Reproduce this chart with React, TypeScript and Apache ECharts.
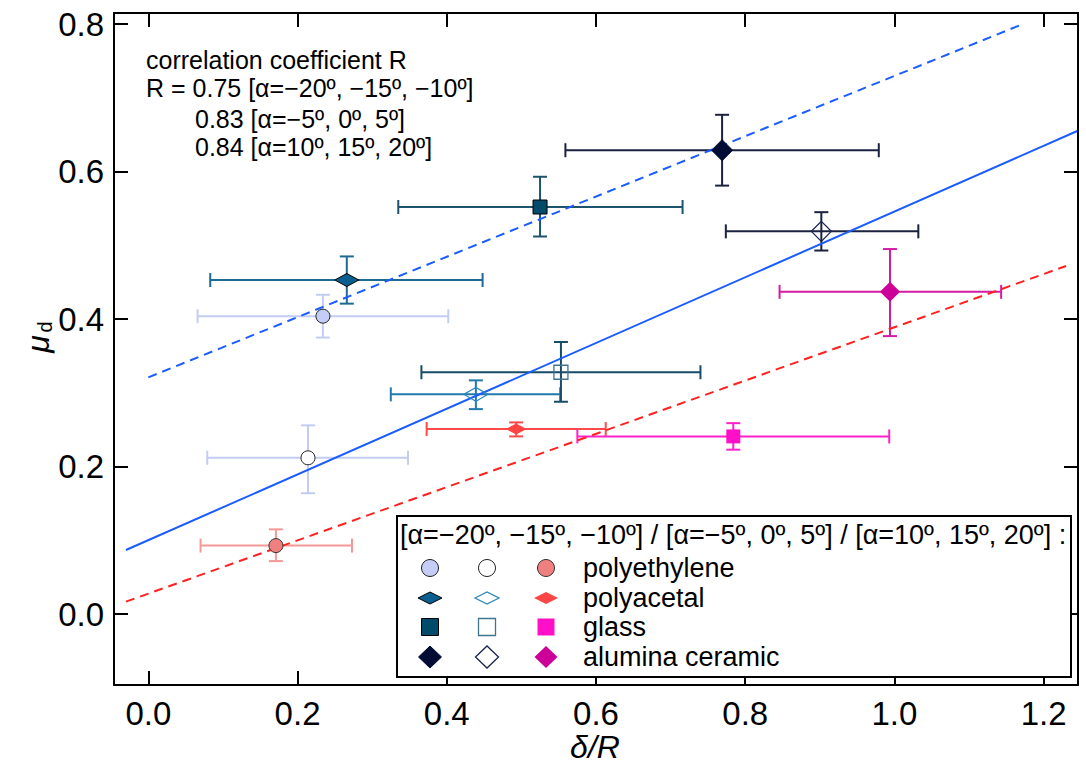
import React, { useEffect, useRef } from "react";
import * as echarts from "echarts";

const FF = '"Liberation Sans", Arial, Helvetica, sans-serif';

// ---- axes ----
const xTicks = [0, 0.2, 0.4, 0.6, 0.8, 1.0, 1.2];
const yTicks = [0, 0.2, 0.4, 0.6, 0.8];
const xRange = [-0.046, 1.246];
const yRange = [-0.096, 0.815];

// ---- categories ----
const materials = ["polyethylene", "polyacetal", "glass", "alumina ceramic"];
const angleGroups = ["[α=−20º, −15º, −10º]", "[α=−5º, 0º, 5º]", "[α=10º, 15º, 20º]"];

// ---- data: α = −20º, −15º, −10º (order: polyethylene, polyacetal, glass, alumina) ----
const negX = [0.234, 0.266, 0.525, 0.769];
const negY = [0.404, 0.453, 0.552, 0.629];
const negXLo = [0.066, 0.083, 0.335, 0.559];
const negXHi = [0.402, 0.448, 0.716, 0.979];
const negYLo = [0.375, 0.421, 0.512, 0.581];
const negYHi = [0.433, 0.485, 0.593, 0.677];

// ---- data: α = −5º, 0º, 5º ----
const zeroX = [0.214, 0.439, 0.553, 0.902];
const zeroY = [0.212, 0.298, 0.328, 0.519];
const zeroXLo = [0.079, 0.325, 0.366, 0.774];
const zeroXHi = [0.348, 0.552, 0.740, 1.032];
const zeroYLo = [0.164, 0.278, 0.288, 0.493];
const zeroYHi = [0.256, 0.317, 0.369, 0.545];

// ---- data: α = 10º, 15º, 20º ----
const posX = [0.171, 0.493, 0.784, 0.994];
const posY = [0.093, 0.251, 0.241, 0.437];
const posXLo = [0.070, 0.373, 0.575, 0.846];
const posXHi = [0.273, 0.613, 0.993, 1.143];
const posYLo = [0.072, 0.241, 0.223, 0.377];
const posYHi = [0.115, 0.260, 0.259, 0.495];

// ---- fit lines (end points) ----
const fitZeroX = [-0.03, 1.245];
const fitZeroY = [0.087, 0.655];
const fitNegX = [0.0, 1.172];
const fitNegY = [0.321, 0.8];
const fitPosX = [-0.03, 1.23];
const fitPosY = [0.017, 0.472];

// ---- annotation text ----
const noteLines = [
  "correlation coefficient R",
  "R = 0.75 [α=−20º, −15º, −10º]",
  "0.83 [α=−5º, 0º, 5º]",
  "0.84 [α=10º, 15º, 20º]",
];

// ---- styles ----
type Mk = { symbol: string; size: number | number[]; fill: string; stroke: string; lw: number };
const negMarkers: Mk[] = [
  { symbol: "circle", size: 14, fill: "#c3cdf5", stroke: "#222", lw: 1 },
  { symbol: "diamond", size: [24, 13], fill: "#0a5f8e", stroke: "#000", lw: 1 },
  { symbol: "rect", size: 14, fill: "#004a6a", stroke: "#000", lw: 1 },
  { symbol: "diamond", size: [21, 21], fill: "#000c33", stroke: "#000c33", lw: 1 },
];
const zeroMarkers: Mk[] = [
  { symbol: "circle", size: 14, fill: "#ffffff", stroke: "#222", lw: 1 },
  { symbol: "diamond", size: [24, 14], fill: "transparent", stroke: "#2a88bb", lw: 1.3 },
  { symbol: "rect", size: 14, fill: "transparent", stroke: "#3f7590", lw: 1.3 },
  { symbol: "diamond", size: [20, 20], fill: "transparent", stroke: "#1c2550", lw: 1.3 },
];
const posMarkers: Mk[] = [
  { symbol: "circle", size: 14, fill: "#f08080", stroke: "#333", lw: 1 },
  { symbol: "diamond", size: [21, 11], fill: "#ff4444", stroke: "#ff4444", lw: 0 },
  { symbol: "rect", size: 14, fill: "#ff10c8", stroke: "#ff10c8", lw: 0 },
  { symbol: "diamond", size: [20, 20], fill: "#cc0099", stroke: "#cc0099", lw: 0 },
];
const negBarColors = ["#c3cdf3", "#1d6b94", "#1c5470", "#1b2240"];
const zeroBarColors = ["#c3cdf3", "#2279ad", "#164c68", "#1b2240"];
const posBarColors = ["#f59898", "#ff4a4a", "#ff22cc", "#d21ca6"];

function errSeries(name: string, xs: number[], ys: number[], xl: number[], xh: number[], yl: number[], yh: number[], colors: string[]) {
  return {
    type: "custom",
    name,
    z: 2,
    data: xs.map((x, i) => [x, ys[i], xl[i], xh[i], yl[i], yh[i]]),
    encode: { x: [0, 2, 3], y: [1, 4, 5] },
    renderItem: (params: any, api: any) => {
      const x = api.value(0), y = api.value(1);
      const a = api.coord([api.value(2), y]);
      const b = api.coord([api.value(3), y]);
      const c = api.coord([x, api.value(4)]);
      const d = api.coord([x, api.value(5)]);
      const cap = 7;
      const st = { stroke: colors[params.dataIndex], lineWidth: 2 };
      const ln = (x1: number, y1: number, x2: number, y2: number) => ({
        type: "line",
        shape: { x1, y1, x2, y2 },
        style: st,
      });
      return {
        type: "group",
        children: [
          ln(a[0], a[1], b[0], b[1]),
          ln(c[0], c[1], d[0], d[1]),
          ln(a[0], a[1] - cap, a[0], a[1] + cap),
          ln(b[0], b[1] - cap, b[0], b[1] + cap),
          ln(c[0] - cap, c[1], c[0] + cap, c[1]),
          ln(d[0] - cap, d[1], d[0] + cap, d[1]),
        ],
      };
    },
  };
}

function markerSeries(name: string, xs: number[], ys: number[], mk: Mk[]) {
  return {
    type: "scatter",
    name,
    z: 4,
    data: xs.map((x, i) => ({
      value: [x, ys[i]],
      symbol: mk[i].symbol,
      symbolSize: mk[i].size,
      itemStyle: { color: mk[i].fill, borderColor: mk[i].stroke, borderWidth: mk[i].lw, opacity: 1 },
    })),
  };
}

function fitSeries(name: string, xs: number[], ys: number[], color: string, dashed: boolean) {
  return {
    type: "line",
    name,
    z: 3,
    data: xs.map((x, i) => [x, ys[i]]),
    showSymbol: false,
    symbol: "none",
    lineStyle: { color, width: 2, type: dashed ? [9, 6] : "solid" },
  };
}

function legendGraphics() {
  const cols = [430, 487, 546];
  const rows = [568, 598, 627, 657];
  const sets = [negMarkers, zeroMarkers, posMarkers];
  const els: any[] = [
    {
      type: "rect",
      shape: { x: 397, y: 516, width: 674, height: 161 },
      style: { fill: "#fff", stroke: "#000", lineWidth: 2 },
      z: 100,
    },
    {
      type: "text",
      x: 400,
      y: 535,
      z: 101,
      style: {
        text: angleGroups.join(" / ") + " :",
        fill: "#000",
        font: `27px ${FF}`,
        align: "left",
        verticalAlign: "middle",
      },
    },
  ];
  rows.forEach((cy, r) => {
    sets.forEach((set, c) => {
      const m = set[r];
      const cx = cols[c];
      const style = { fill: m.fill === "transparent" ? "none" : m.fill, stroke: m.stroke, lineWidth: m.lw || 0 };
      if (m.symbol === "circle") {
        els.push({ type: "circle", z: 101, shape: { cx, cy, r: 8.5 }, style });
      } else if (m.symbol === "rect") {
        els.push({ type: "rect", z: 101, shape: { x: cx - 8.5, y: cy - 8.5, width: 17, height: 17 }, style });
      } else {
        const w = r === 1 ? 24 : 23;
        const h = r === 1 ? 12 : 22;
        els.push({
          type: "polygon",
          z: 101,
          shape: { points: [[cx - w / 2, cy], [cx, cy - h / 2], [cx + w / 2, cy], [cx, cy + h / 2]] },
          style,
        });
      }
    });
    els.push({
      type: "text",
      x: 583,
      y: cy,
      z: 101,
      style: { text: materials[r], fill: "#000", font: `27px ${FF}`, align: "left", verticalAlign: "middle" },
    });
  });
  return els;
}

function noteGraphics() {
  const xs = [146, 146, 195, 195];
  const ys = [60, 88, 119, 147];
  return noteLines.map((t, i) => ({
    type: "text",
    x: xs[i],
    y: ys[i],
    z: 50,
    style: { text: t, fill: "#000", font: `25px ${FF}`, align: "left", verticalAlign: "middle" },
  }));
}

function axisNameGraphics() {
  return [
    {
      type: "text",
      x: 595,
      y: 747,
      z: 50,
      style: { text: "δ/R", fill: "#000", font: `italic 32px ${FF}`, align: "center", verticalAlign: "middle" },
    },
    {
      type: "group",
      x: 38,
      y: 338,
      rotation: Math.PI / 2,
      z: 50,
      children: [
        {
          type: "text",
          x: -6,
          y: 0,
          style: { text: "μ", fill: "#000", font: `italic 32px ${FF}`, align: "center", verticalAlign: "middle" },
        },
        {
          type: "text",
          x: 11,
          y: 7,
          style: { text: "d", fill: "#000", font: `20px ${FF}`, align: "center", verticalAlign: "middle" },
        },
      ],
    },
  ];
}

const axisCommon = {
  type: "value",
  splitLine: { show: false },
  axisLine: { show: true, onZero: false, lineStyle: { color: "#000", width: 2 } },
};

export default function App() {
  const ref = useRef<HTMLDivElement>(null);
  useEffect(() => {
    document.body.style.margin = "0";
    const chart = echarts.init(ref.current as HTMLDivElement, null, { renderer: "svg" });
    const option: any = {
      animation: false,
      backgroundColor: "#fff",
      grid: { left: 114, right: 8, top: 13, bottom: 86, containLabel: false },
      xAxis: [
        {
          ...axisCommon,
          position: "bottom",
          min: xRange[0],
          max: xRange[1],
          axisTick: { show: true, inside: true, length: 14, customValues: xTicks, lineStyle: { color: "#000", width: 2 } },
          axisLabel: {
            show: true,
            customValues: xTicks,
            formatter: (v: number) => v.toFixed(1),
            fontSize: 33,
            fontFamily: FF,
            color: "#000",
            margin: 12,
          },
        },
        {
          ...axisCommon,
          position: "top",
          min: xRange[0],
          max: xRange[1],
          axisTick: { show: true, inside: true, length: 14, customValues: xTicks, lineStyle: { color: "#000", width: 2 } },
          axisLabel: { show: false },
        },
      ],
      yAxis: [
        {
          ...axisCommon,
          position: "left",
          min: yRange[0],
          max: yRange[1],
          axisTick: { show: true, inside: true, length: 14, customValues: yTicks, lineStyle: { color: "#000", width: 2 } },
          axisLabel: {
            show: true,
            customValues: yTicks,
            formatter: (v: number) => v.toFixed(1),
            fontSize: 33,
            fontFamily: FF,
            color: "#000",
            margin: 10,
          },
        },
        {
          ...axisCommon,
          position: "right",
          min: yRange[0],
          max: yRange[1],
          axisTick: { show: true, inside: true, length: 14, customValues: yTicks, lineStyle: { color: "#000", width: 2 } },
          axisLabel: { show: false },
        },
      ],
      series: [
        errSeries("bars neg", negX, negY, negXLo, negXHi, negYLo, negYHi, negBarColors),
        errSeries("bars zero", zeroX, zeroY, zeroXLo, zeroXHi, zeroYLo, zeroYHi, zeroBarColors),
        errSeries("bars pos", posX, posY, posXLo, posXHi, posYLo, posYHi, posBarColors),
        fitSeries("fit zero", fitZeroX, fitZeroY, "#1a5cff", false),
        fitSeries("fit neg", fitNegX, fitNegY, "#1a5cff", true),
        fitSeries("fit pos", fitPosX, fitPosY, "#ff2020", true),
        markerSeries(angleGroups[0], negX, negY, negMarkers),
        markerSeries(angleGroups[1], zeroX, zeroY, zeroMarkers),
        markerSeries(angleGroups[2], posX, posY, posMarkers),
      ],
      graphic: [...noteGraphics(), ...legendGraphics(), ...axisNameGraphics()],
    };
    chart.setOption(option);
    return () => chart.dispose();
  }, []);
  return <div ref={ref} style={{ width: 1086, height: 771 }} />;
}
